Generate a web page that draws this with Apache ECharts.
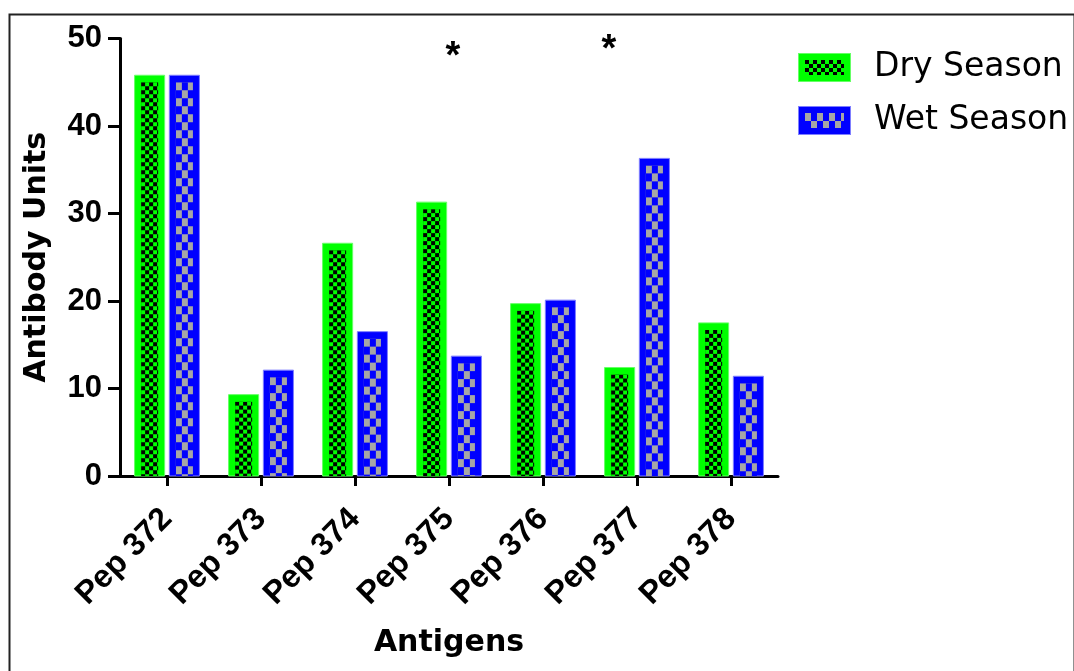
<!DOCTYPE html>
<html>
<head>
<meta charset="utf-8">
<script src="https://cdn.jsdelivr.net/npm/echarts@6/dist/echarts.min.js"></script>
<style>
html,body{margin:0;padding:0;background:#fff;}
#chart{width:1074px;height:671px;}
</style>
</head>
<body>
<div id="chart"></div>
<script>
const categories = ['Pep 372', 'Pep 373', 'Pep 374', 'Pep 375', 'Pep 376', 'Pep 377', 'Pep 378'];
const drySeason = [45.8, 9.3, 26.6, 31.3, 19.7, 12.4, 17.5];
const wetSeason = [45.8, 12.1, 16.5, 13.7, 20.1, 36.3, 11.4];
const seriesNames = ['Dry Season', 'Wet Season'];
const yMin = 0, yMax = 50, yStep = 10;

function checker(c1, c2, cw, ch) {
  const cv = document.createElement('canvas');
  cv.width = cw * 2; cv.height = ch * 2;
  const ctx = cv.getContext('2d');
  ctx.fillStyle = c1; ctx.fillRect(0, 0, cv.width, cv.height);
  ctx.fillStyle = c2;
  ctx.fillRect(0, 0, cw, ch);
  ctx.fillRect(cw, ch, cw, ch);
  return cv;
}
const dryPat = checker('#00ff00', '#000000', 4, 4);
const wetPat = checker('#0000ff', '#a6a6a6', 6, 8);

function legendIcon(fill, edge, pat) {
  const cv = document.createElement('canvas');
  cv.width = 53; cv.height = 29;
  const ctx = cv.getContext('2d');
  ctx.fillStyle = fill; ctx.fillRect(0, 0, 53, 29);
  ctx.strokeStyle = edge; ctx.lineWidth = 1; ctx.strokeRect(0.5, 0.5, 52, 28);
  ctx.fillStyle = ctx.createPattern(pat, 'repeat');
  ctx.save(); ctx.translate(7, 7); ctx.fillRect(0, 0, 39, 15); ctx.restore();
  return 'image://' + cv.toDataURL();
}

function renderSeason(side, fill, edge, pat) {
  return function (params, api) {
    const idx = api.value(0), val = api.value(1);
    const p0 = api.coord([idx, 0]), p1 = api.coord([idx, val]);
    const band = api.size([1, 0])[0];
    const barW = band * 0.32, gap = band * 0.05;
    const cx = p0[0] + side * (gap / 2 + barW / 2);
    const x = cx - barW / 2, y = p1[1], h = p0[1] - p1[1];
    const inset = 6.5;
    return {
      type: 'group',
      children: [
        { type: 'rect', shape: { x: x, y: y, width: barW, height: h },
          style: { fill: fill, stroke: edge, lineWidth: 1 } },
        { type: 'rect', shape: { x: x + inset, y: y + 7, width: barW - 2 * inset, height: Math.max(0, h - 7) },
          style: { fill: { image: pat, repeat: 'repeat', x: x + inset, y: y + 7 } } }
      ]
    };
  };
}

const chart = echarts.init(document.getElementById('chart'), null, { renderer: 'canvas' });
const labelFont = '"Liberation Sans", Arial, sans-serif';
const titleFont = '"DejaVu Sans", sans-serif';

chart.setOption({
  backgroundColor: '#ffffff',
  animation: false,
  grid: { left: 120, top: 38.5, width: 658, height: 437.5, containLabel: false },
  legend: {
    orient: 'vertical', left: 798, top: 51, padding: 0,
    itemWidth: 53, itemHeight: 29, itemGap: 20,
    textStyle: { fontFamily: titleFont, fontSize: 33, color: '#000', padding: [0, 0, 0, 18] },
    data: [
      { name: seriesNames[0], icon: legendIcon('#00ff00', '#66ff66', dryPat) },
      { name: seriesNames[1], icon: legendIcon('#0000ff', '#7f7fff', wetPat) }
    ]
  },
  xAxis: {
    type: 'category', data: categories,
    boundaryGap: true,
    axisLine: { show: true, lineStyle: { color: '#000', width: 3 } },
    axisTick: { show: true, alignWithLabel: true, length: 10, lineStyle: { color: '#000', width: 3 } },
    axisLabel: { interval: 0, rotate: 45, margin: 38, color: '#000', fontFamily: labelFont, fontWeight: 'bold', fontSize: 32 },
    name: 'Antigens', nameLocation: 'middle', nameGap: 152,
    nameTextStyle: { fontFamily: titleFont, fontWeight: 'bold', fontSize: 30, color: '#000' }
  },
  yAxis: {
    type: 'value', min: yMin, max: yMax, interval: yStep,
    axisLine: { show: true, lineStyle: { color: '#000', width: 3 } },
    axisTick: { show: true, length: 12, lineStyle: { color: '#000', width: 3 } },
    axisLabel: { margin: 18, color: '#000', fontFamily: labelFont, fontWeight: 'bold', fontSize: 31 },
    splitLine: { show: false },
    name: 'Antibody Units', nameLocation: 'middle', nameGap: 68,
    nameTextStyle: { fontFamily: titleFont, fontWeight: 'bold', fontSize: 30, color: '#000' }
  },
  series: [
    { name: seriesNames[0], type: 'custom', itemStyle: { color: '#00ff00' },
      renderItem: renderSeason(-1, '#00ff00', '#66ff66', dryPat),
      encode: { x: 0, y: 1 },
      data: drySeason.map((v, i) => [i, v]) },
    { name: seriesNames[1], type: 'custom', itemStyle: { color: '#0000ff' },
      renderItem: renderSeason(1, '#0000ff', '#7f7fff', wetPat),
      encode: { x: 0, y: 1 },
      data: wetSeason.map((v, i) => [i, v]) }
  ],
  graphic: [
    { type: 'rect', left: 7, top: 12, shape: { x: 0, y: 0, width: 1065, height: 700 },
      style: { fill: 'none', stroke: '#222', lineWidth: 2 }, silent: true, z: 100 },
    { type: 'text', x: 453, y: 58, style: { text: '*', fontSize: 38, fontWeight: 'bold', fontFamily: labelFont, fill: '#000', textAlign: 'center', textVerticalAlign: 'middle' } },
    { type: 'text', x: 609, y: 51, style: { text: '*', fontSize: 38, fontWeight: 'bold', fontFamily: labelFont, fill: '#000', textAlign: 'center', textVerticalAlign: 'middle' } }
  ]
});
</script>
</body>
</html>
